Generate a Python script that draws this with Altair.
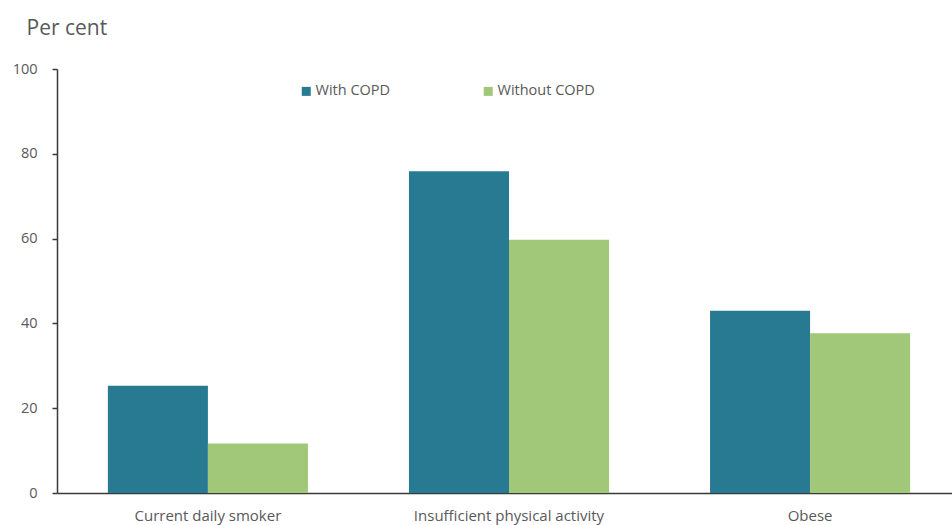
import altair as alt
import pandas as pd

# Share of people with each risk factor, by COPD status (per cent)
categories = ["Current daily smoker", "Insufficient physical activity", "Obese"]
series = ["With COPD", "Without COPD"]
with_copd = [25.3, 75.9, 43.0]
without_copd = [11.7, 59.7, 37.7]
y_ticks = [0, 20, 40, 60, 80, 100]

rows = []
for cat, a, b in zip(categories, with_copd, without_copd):
    rows.append({"factor": cat, "group": series[0], "value": a})
    rows.append({"factor": cat, "group": series[1], "value": b})
df = pd.DataFrame(rows)

FONT = "Open Sans"
TEXT = "#595959"
AXIS = "#3a3a3a"

chart = (
    alt.Chart(df)
    .mark_bar()
    .encode(
        x=alt.X(
            "factor:N",
            sort=categories,
            title=None,
            # the category axis runs slightly past the right edge of the view
            scale=alt.Scale(range=[0, 904], paddingInner=0.3355, paddingOuter=0.169),
            axis=alt.Axis(
                labelAngle=0,
                ticks=False,
                labelPadding=15,
                labelFontSize=15,
                labelLimit=400,
                labelColor=TEXT,
                labelFont=FONT,
                domainColor=AXIS,
                domainWidth=1.5,
            ),
        ),
        xOffset=alt.XOffset("group:N", sort=series),
        y=alt.Y(
            "value:Q",
            title="Per cent",
            scale=alt.Scale(domain=[0, 100], nice=False),
            axis=alt.Axis(
                values=y_ticks,
                grid=False,
                tickSize=5,
                tickColor=AXIS,
                tickWidth=1.5,
                domainColor=AXIS,
                domainWidth=1.5,
                labelPadding=15,
                labelFontSize=14.5,
                labelColor=TEXT,
                labelFont=FONT,
                titleAngle=0,
                titleAlign="left",
                titleBaseline="alphabetic",
                titleX=-31,
                titleY=-35,
                titleFontSize=21,
                titleFontWeight="normal",
                titleColor=TEXT,
                titleFont=FONT,
            ),
        ),
        color=alt.Color(
            "group:N",
            sort=series,
            scale=alt.Scale(domain=series, range=["#287A93", "#A1C779"]),
            legend=alt.Legend(
                title=None,
                orient="none",
                legendX=242,
                legendY=15,
                direction="horizontal",
                symbolType="square",
                symbolSize=81,
                symbolStrokeWidth=0,
                labelFontSize=14.5,
                labelColor=TEXT,
                labelFont=FONT,
                labelOffset=2,
                columnPadding=90,
                padding=0,
            ),
        ),
    )
    .properties(
        width=895,
        height=424,
        autosize=alt.AutoSizeParams(type="none"),
        padding={"left": 57, "top": 69, "right": 0, "bottom": 32},
    )
    .configure(background="white")
    .configure_view(stroke=None)
)

chart.save("out.html", embed_options={"renderer": "svg", "actions": False})
